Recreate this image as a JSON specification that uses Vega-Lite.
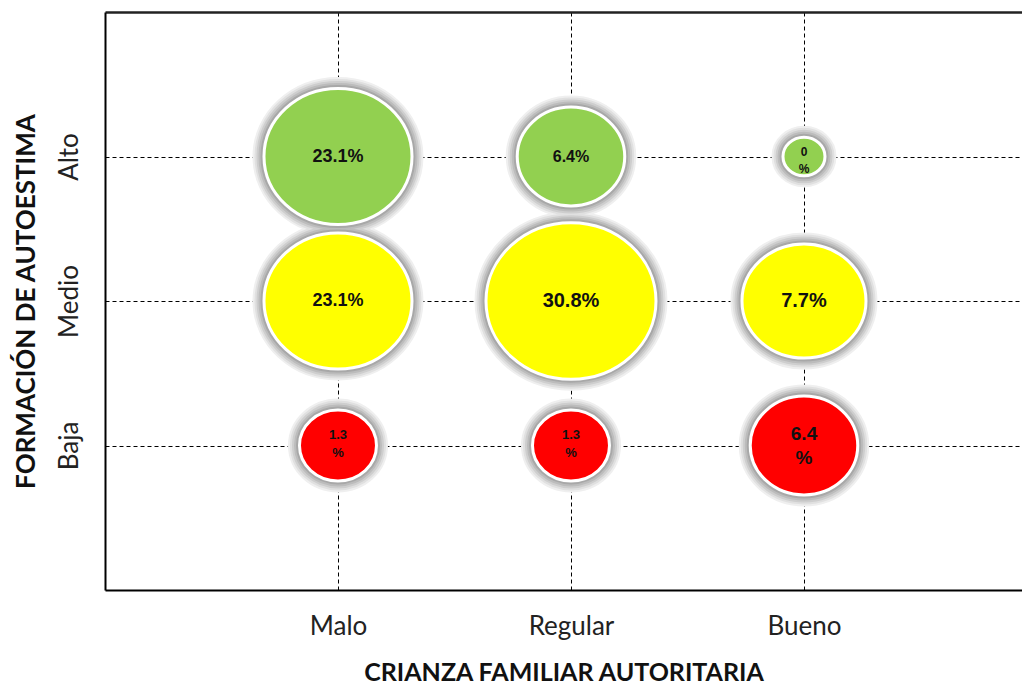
{
  "$schema": "https://vega.github.io/schema/vega-lite/v6.json",
  "width": 917,
  "height": 578,
  "autosize": "none",
  "padding": {"left": 105, "top": 12, "right": 0, "bottom": 94},
  "background": "white",
  "config": {"view": {"stroke": null}},
  "data": {"values": [
    {"crianza": "Malo", "autoestima": "Alto", "pct": 23.1, "label": "23.1%"},
    {"crianza": "Regular", "autoestima": "Alto", "pct": 6.4, "label": "6.4%"},
    {"crianza": "Bueno", "autoestima": "Alto", "pct": 0, "label": "0\n%"},
    {"crianza": "Malo", "autoestima": "Medio", "pct": 23.1, "label": "23.1%"},
    {"crianza": "Regular", "autoestima": "Medio", "pct": 30.8, "label": "30.8%"},
    {"crianza": "Bueno", "autoestima": "Medio", "pct": 7.7, "label": "7.7%"},
    {"crianza": "Malo", "autoestima": "Baja", "pct": 1.3, "label": "1.3\n%"},
    {"crianza": "Regular", "autoestima": "Baja", "pct": 1.3, "label": "1.3\n%"},
    {"crianza": "Bueno", "autoestima": "Baja", "pct": 6.4, "label": "6.4\n%"}
  ]},
  "encoding": {
    "x": {
      "field": "crianza", "type": "nominal", "sort": ["Malo", "Regular", "Bueno"],
      "scale": {"type": "point", "padding": 0.9678, "align": 0.5166},
      "axis": null
    },
    "y": {
      "field": "autoestima", "type": "nominal", "sort": ["Alto", "Medio", "Baja"],
      "scale": {"type": "point", "padding": 1},
      "axis": {
        "title": "FORMACIÓN DE AUTOESTIMA", "titleFont": "Lato", "titleFontWeight": "bold",
        "titleFontSize": 26, "titleColor": "#111", "titlePadding": 17,
        "labelFont": "Lato", "labelFontSize": 26, "labelColor": "#222", "labelPadding": 23, "labelAngle": -90,
        "labelAlign": "center", "labelBaseline": "bottom",
        "ticks": false, "domainColor": "#000", "domainWidth": 2,
        "grid": true, "gridColor": "#000", "gridDash": [4, 3], "gridWidth": 1
      }
    },
    "size": {
      "field": "pct", "type": "quantitative",
      "scale": {"domain": [0, 1.3, 6.4, 7.7, 23.1, 30.8], "range": [1764, 5929, 11556, 15376, 21904, 28900]},
      "legend": null
    }
  },
  "layer": [
    {
      "mark": {"type": "point", "filled": false, "color": "#efefef", "strokeWidth": 23, "opacity": 1,
        "shape": "M1,0 C1,0.5081 0.5523,0.92 0,0.92 C-0.5523,0.92 -1,0.5081 -1,0 C-1,-0.5081 -0.5523,-0.92 0,-0.92 C0.5523,-0.92 1,-0.5081 1,0 Z"},
      "encoding": {
        "x": {
          "field": "crianza", "type": "nominal", "sort": ["Malo", "Regular", "Bueno"],
          "axis": {"orient": "top", "labels": false, "ticks": false,
            "grid": false, "title": null, "domain": true, "domainColor": "#222", "domainWidth": 2.5}
        }
      }
    },
    {
      "mark": {"type": "point", "filled": false, "color": "#e0e0e0", "strokeWidth": 19, "opacity": 1,
        "shape": "M1,0 C1,0.5081 0.5523,0.92 0,0.92 C-0.5523,0.92 -1,0.5081 -1,0 C-1,-0.5081 -0.5523,-0.92 0,-0.92 C0.5523,-0.92 1,-0.5081 1,0 Z"}
    },
    {
      "mark": {"type": "point", "filled": false, "color": "#cecece", "strokeWidth": 15, "opacity": 1,
        "shape": "M1,0 C1,0.5081 0.5523,0.92 0,0.92 C-0.5523,0.92 -1,0.5081 -1,0 C-1,-0.5081 -0.5523,-0.92 0,-0.92 C0.5523,-0.92 1,-0.5081 1,0 Z"}
    },
    {
      "mark": {"type": "point", "filled": false, "color": "#bcbcbc", "strokeWidth": 11, "opacity": 1,
        "shape": "M1,0 C1,0.5081 0.5523,0.92 0,0.92 C-0.5523,0.92 -1,0.5081 -1,0 C-1,-0.5081 -0.5523,-0.92 0,-0.92 C0.5523,-0.92 1,-0.5081 1,0 Z"}
    },
    {
      "mark": {"type": "point", "filled": false, "color": "#a8a8a8", "strokeWidth": 7, "opacity": 1,
        "shape": "M1,0 C1,0.5081 0.5523,0.92 0,0.92 C-0.5523,0.92 -1,0.5081 -1,0 C-1,-0.5081 -0.5523,-0.92 0,-0.92 C0.5523,-0.92 1,-0.5081 1,0 Z"}
    },
    {
      "mark": {"type": "point", "filled": true, "stroke": "white", "strokeWidth": 3, "opacity": 1,
        "shape": "M1,0 C1,0.5081 0.5523,0.92 0,0.92 C-0.5523,0.92 -1,0.5081 -1,0 C-1,-0.5081 -0.5523,-0.92 0,-0.92 C0.5523,-0.92 1,-0.5081 1,0 Z"},
      "encoding": {
        "fill": {"field": "autoestima", "type": "nominal",
          "scale": {"domain": ["Alto", "Medio", "Baja"], "range": ["#92D050", "#FFFF00", "#FF0000"]},
          "legend": null}
      }
    },
    {
      "mark": {"type": "text", "font": "Liberation Sans", "fontWeight": "bold", "lineBreak": "\n",
        "align": "center", "baseline": "middle", "color": "#111",
        "lineHeight": {"expr": "datum.pct < 1 ? 17 : datum.pct < 2 ? 18 : 24"},
        "dy": {"expr": "datum.pct < 1 ? -5 : datum.pct < 2 ? -11 : datum.autoestima == 'Baja' ? -12 : 0"}},
      "encoding": {
        "x": {
          "field": "crianza", "type": "nominal", "sort": ["Malo", "Regular", "Bueno"],
          "axis": {
            "orient": "bottom",
            "title": "CRIANZA FAMILIAR AUTORITARIA", "titleFont": "Lato", "titleFontWeight": "bold",
            "titleFontSize": 25, "titleColor": "#111", "titlePadding": 21,
            "labelFont": "Lato", "labelFontSize": 26, "labelColor": "#222", "labelPadding": 23, "labelAngle": 0,
            "ticks": false, "domainColor": "#000", "domainWidth": 2,
            "grid": true, "gridColor": "#000", "gridDash": [4, 3], "gridWidth": 1
          }
        },
        "text": {"field": "label", "type": "nominal"},
        "size": {
          "condition": [
            {"test": "datum.pct < 1", "value": 12},
            {"test": "datum.pct < 2", "value": 13},
            {"test": "datum.autoestima == 'Alto' && datum.pct < 10", "value": 16},
            {"test": "datum.pct == 23.1", "value": 18},
            {"test": "datum.autoestima == 'Baja'", "value": 19}
          ],
          "value": 20
        }
      }
    }
  ],
  "resolve": {"axis": {"x": "independent"}}
}
